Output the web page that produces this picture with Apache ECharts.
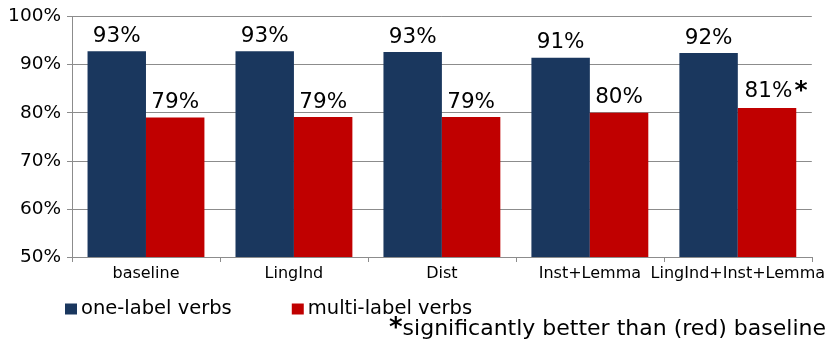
<!DOCTYPE html>
<html>
<head>
<meta charset="utf-8">
<script src="https://cdn.jsdelivr.net/npm/echarts@6/dist/echarts.min.js"></script>
<style>
  html, body { margin: 0; padding: 0; background: #fff; }
  #chart { width: 828px; height: 344px; }
</style>
</head>
<body>
<div id="chart"></div>
<script>
// Verb classification accuracy per feature set
const categories = ['baseline', 'LingInd', 'Dist', 'Inst+Lemma', 'LingInd+Inst+Lemma'];
const oneLabel = [92.8, 92.8, 92.6, 91.4, 92.4];
const multiLabel = [79.0, 79.1, 79.1, 80.0, 81.0];
// multi-label results significantly better than the red baseline
const significant = [false, false, false, false, true];
const yTicks = [50, 60, 70, 80, 90, 100];

const FONT = 'DejaVu Sans';
const BLUE = '#1A375E';
const RED = '#C00000';
const GRID = '#8c8c8c';

const chart = echarts.init(document.getElementById('chart'), null, { renderer: 'canvas' });

const pct = v => Math.round(v) + '%';

const labelBase = {
  show: true,
  position: 'top',
  distance: 4,
  color: '#000',
  fontFamily: FONT,
  fontSize: 21.5
};

chart.setOption({
  animation: false,
  backgroundColor: '#fff',
  grid: { left: 72, right: 16, top: 16.5, bottom: 87, containLabel: false },
  legend: {
    left: 60,
    top: 294,
    itemWidth: 12,
    itemHeight: 11,
    itemGap: 60,
    icon: 'rect',
    textStyle: { fontFamily: FONT, fontSize: 19.5, color: '#000', padding: [0, 0, 0, -1] },
    data: ['one-label verbs', 'multi-label verbs']
  },
  xAxis: {
    type: 'category',
    data: categories,
    axisLine: { show: true, lineStyle: { color: GRID, width: 1 } },
    axisTick: { show: true, length: 5, alignWithLabel: false, lineStyle: { color: GRID } },
    axisLabel: { fontFamily: FONT, fontSize: 16, color: '#000', margin: 9, interval: 0 }
  },
  yAxis: {
    type: 'value',
    min: yTicks[0],
    max: yTicks[yTicks.length - 1],
    interval: 10,
    axisLine: { show: true, lineStyle: { color: GRID, width: 1 } },
    axisTick: { show: true, length: 5, lineStyle: { color: GRID } },
    splitLine: { show: true, lineStyle: { color: GRID, width: 1 } },
    axisLabel: {
      fontFamily: FONT, fontSize: 18.5, color: '#000', margin: 11,
      formatter: v => v + '%'
    }
  },
  series: [
    {
      name: 'one-label verbs',
      type: 'bar',
      data: oneLabel,
      itemStyle: { color: BLUE },
      barGap: '0%',
      barCategoryGap: '21%',
      label: Object.assign({}, labelBase, { formatter: p => pct(p.value) })
    },
    {
      name: 'multi-label verbs',
      type: 'bar',
      data: multiLabel.map((v, i) => significant[i]
        ? {
            value: v,
            label: {
              offset: [9, 0],
              formatter: p => pct(p.value) + '{s|*}',
              rich: { s: { fontFamily: FONT, fontSize: 25, fontWeight: 'bold', color: '#000', padding: [0, 0, 0, 2] } }
            }
          }
        : v),
      itemStyle: { color: RED },
      barGap: '0%',
      barCategoryGap: '21%',
      label: Object.assign({}, labelBase, { formatter: p => pct(p.value) })
    }
  ],
  graphic: [
    {
      type: 'text',
      right: 2,
      top: 316,
      style: {
        text: '{s|*}significantly better than (red) baseline',
        fontFamily: FONT,
        fontSize: 22,
        fill: '#000',
        rich: { s: { fontFamily: FONT, fontSize: 26, fontWeight: 'bold', fill: '#000' } }
      }
    }
  ]
});
</script>
</body>
</html>
